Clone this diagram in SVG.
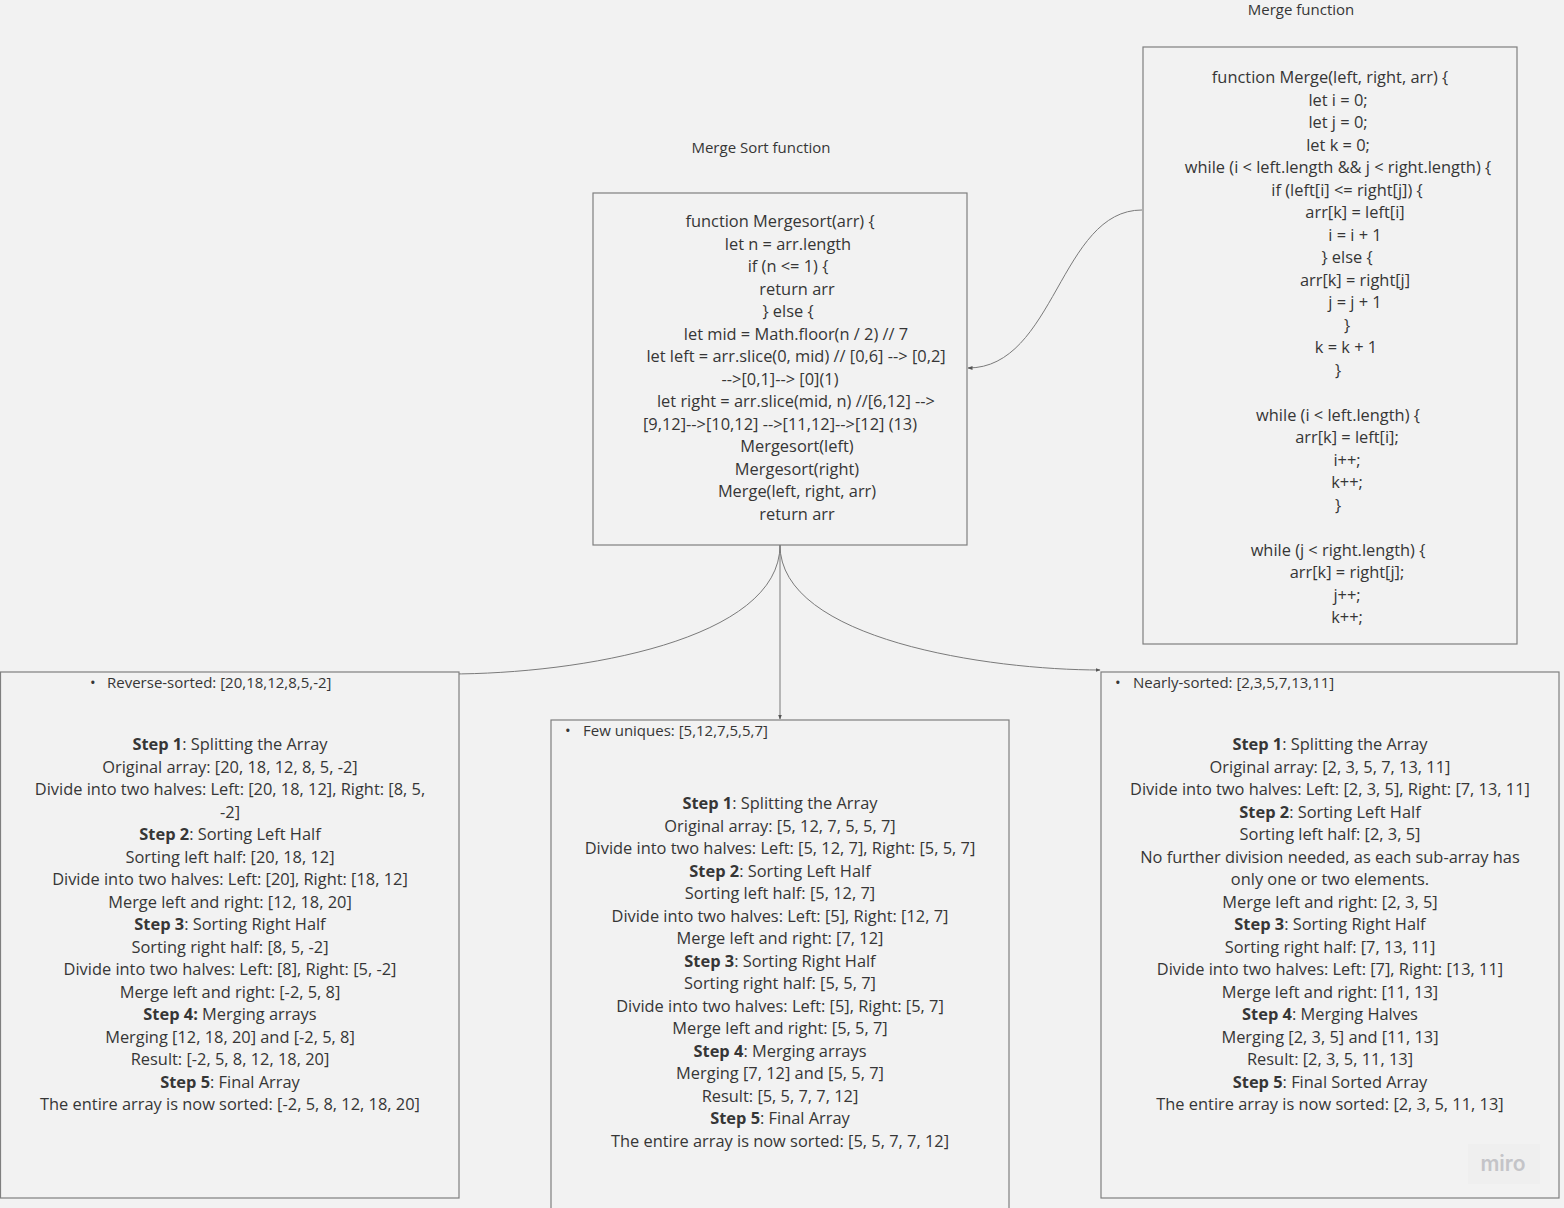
<svg xmlns="http://www.w3.org/2000/svg" width="1564" height="1208" viewBox="0 0 1564 1208">
<style>
.bg{fill:#f2f2f2}
.box{fill:#f2f2f2;stroke:#7f7f7f;stroke-width:1.2}
.t{font-family:"Open Sans","Noto Sans","DejaVu Sans",sans-serif;font-size:16.4px;fill:#363636;text-anchor:middle}
.h{font-family:"Open Sans","Noto Sans","DejaVu Sans",sans-serif;font-size:15px;fill:#363636}
.b{font-weight:bold}
.c{fill:none;stroke:#7a7a7a;stroke-width:1}
</style>
<defs>
<marker id="ah" viewBox="0 0 10 10" refX="9" refY="5" markerWidth="5" markerHeight="5" orient="auto" markerUnits="userSpaceOnUse">
<path d="M0,1 L10,5 L0,9 z" fill="#555"/>
</marker>
</defs>
<rect class="bg" x="0" y="0" width="1564" height="1208"/>

<g id="title-mergesort"><text class="h" x="761" y="153" text-anchor="middle">Merge Sort function</text></g>
<g id="title-merge"><text class="h" x="1301" y="15" text-anchor="middle">Merge function</text></g>

<g id="connectors">
<path class="c" d="M1142,210 C1060,210 1055,368 968,368" marker-end="url(#ah)"/>
<path class="c" d="M780,545 C780,640 580,674 449,674" marker-end="url(#ah)"/>
<path class="c" d="M780,545 L780,719" marker-end="url(#ah)"/>
<path class="c" d="M780,545 C780,640 990,670 1100,670" marker-end="url(#ah)"/>
</g>

<g id="node-mergesort">
<rect class="box" x="593" y="193" width="374" height="352"/>
<text class="t" x="780" y="227">function Mergesort(arr) {</text>
<text class="t" x="788" y="249.5">let n = arr.length</text>
<text class="t" x="788" y="272">if (n &lt;= 1) {</text>
<text class="t" x="797" y="294.5">return arr</text>
<text class="t" x="788" y="317">} else {</text>
<text class="t" x="796" y="339.5">let mid = Math.floor(n / 2) // 7</text>
<text class="t" x="796" y="362">let left = arr.slice(0, mid) // [0,6] --&gt; [0,2]</text>
<text class="t" x="780" y="384.5">--&gt;[0,1]--&gt; [0](1)</text>
<text class="t" x="796" y="407">let right = arr.slice(mid, n) //[6,12] --&gt;</text>
<text class="t" x="780" y="429.5">[9,12]--&gt;[10,12] --&gt;[11,12]--&gt;[12] (13)</text>
<text class="t" x="797" y="452">Mergesort(left)</text>
<text class="t" x="797" y="474.5">Mergesort(right)</text>
<text class="t" x="797" y="497">Merge(left, right, arr)</text>
<text class="t" x="797" y="519.5">return arr</text>
</g>

<g id="node-merge">
<rect class="box" x="1143" y="47" width="374" height="597"/>
<text class="t" x="1330" y="83">function Merge(left, right, arr) {</text>
<text class="t" x="1338" y="105.5">let i = 0;</text>
<text class="t" x="1338" y="128">let j = 0;</text>
<text class="t" x="1338" y="150.5">let k = 0;</text>
<text class="t" x="1338" y="173">while (i &lt; left.length &amp;&amp; j &lt; right.length) {</text>
<text class="t" x="1347" y="195.5">if (left[i] &lt;= right[j]) {</text>
<text class="t" x="1355" y="218">arr[k] = left[i]</text>
<text class="t" x="1355" y="240.5">i = i + 1</text>
<text class="t" x="1347" y="263">} else {</text>
<text class="t" x="1355" y="285.5">arr[k] = right[j]</text>
<text class="t" x="1355" y="308">j = j + 1</text>
<text class="t" x="1347" y="330.5">}</text>
<text class="t" x="1346" y="353">k = k + 1</text>
<text class="t" x="1338" y="375.5">}</text>
<text class="t" x="1338" y="420.5">while (i &lt; left.length) {</text>
<text class="t" x="1347" y="443">arr[k] = left[i];</text>
<text class="t" x="1347" y="465.5">i++;</text>
<text class="t" x="1347" y="488">k++;</text>
<text class="t" x="1338" y="510.5">}</text>
<text class="t" x="1338" y="555.5">while (j &lt; right.length) {</text>
<text class="t" x="1347" y="578">arr[k] = right[j];</text>
<text class="t" x="1347" y="600.5">j++;</text>
<text class="t" x="1347" y="623">k++;</text>
</g>

<g id="node-reverse">
<rect class="box" x="0.5" y="672" width="458.5" height="526"/>
<text class="h" x="90" y="688" font-size="10">•</text>
<text class="h" x="107" y="688">Reverse-sorted: [20,18,12,8,5,-2]</text>
<text class="t" x="230" y="750"><tspan class="b">Step 1</tspan>: Splitting the Array</text>
<text class="t" x="230" y="772.5">Original array: [20, 18, 12, 8, 5, -2]</text>
<text class="t" x="230" y="795">Divide into two halves: Left: [20, 18, 12], Right: [8, 5,</text>
<text class="t" x="230" y="817.5">-2]</text>
<text class="t" x="230" y="840"><tspan class="b">Step 2</tspan>: Sorting Left Half</text>
<text class="t" x="230" y="862.5">Sorting left half: [20, 18, 12]</text>
<text class="t" x="230" y="885">Divide into two halves: Left: [20], Right: [18, 12]</text>
<text class="t" x="230" y="907.5">Merge left and right: [12, 18, 20]</text>
<text class="t" x="230" y="930"><tspan class="b">Step 3</tspan>: Sorting Right Half</text>
<text class="t" x="230" y="952.5">Sorting right half: [8, 5, -2]</text>
<text class="t" x="230" y="975">Divide into two halves: Left: [8], Right: [5, -2]</text>
<text class="t" x="230" y="997.5">Merge left and right: [-2, 5, 8]</text>
<text class="t" x="230" y="1020"><tspan class="b">Step 4:</tspan> Merging arrays</text>
<text class="t" x="230" y="1042.5">Merging [12, 18, 20] and [-2, 5, 8]</text>
<text class="t" x="230" y="1065">Result: [-2, 5, 8, 12, 18, 20]</text>
<text class="t" x="230" y="1087.5"><tspan class="b">Step 5</tspan>: Final Array</text>
<text class="t" x="230" y="1110">The entire array is now sorted: [-2, 5, 8, 12, 18, 20]</text>
</g>

<g id="node-few">
<rect class="box" x="551" y="720" width="458" height="500"/>
<text class="h" x="565" y="736" font-size="10">•</text>
<text class="h" x="583" y="736">Few uniques: [5,12,7,5,5,7]</text>
<text class="t" x="780" y="809"><tspan class="b">Step 1</tspan>: Splitting the Array</text>
<text class="t" x="780" y="831.5">Original array: [5, 12, 7, 5, 5, 7]</text>
<text class="t" x="780" y="854">Divide into two halves: Left: [5, 12, 7], Right: [5, 5, 7]</text>
<text class="t" x="780" y="876.5"><tspan class="b">Step 2</tspan>: Sorting Left Half</text>
<text class="t" x="780" y="899">Sorting left half: [5, 12, 7]</text>
<text class="t" x="780" y="921.5">Divide into two halves: Left: [5], Right: [12, 7]</text>
<text class="t" x="780" y="944">Merge left and right: [7, 12]</text>
<text class="t" x="780" y="966.5"><tspan class="b">Step 3</tspan>: Sorting Right Half</text>
<text class="t" x="780" y="989">Sorting right half: [5, 5, 7]</text>
<text class="t" x="780" y="1011.5">Divide into two halves: Left: [5], Right: [5, 7]</text>
<text class="t" x="780" y="1034">Merge left and right: [5, 5, 7]</text>
<text class="t" x="780" y="1056.5"><tspan class="b">Step 4</tspan>: Merging arrays</text>
<text class="t" x="780" y="1079">Merging [7, 12] and [5, 5, 7]</text>
<text class="t" x="780" y="1101.5">Result: [5, 5, 7, 7, 12]</text>
<text class="t" x="780" y="1124"><tspan class="b">Step 5</tspan>: Final Array</text>
<text class="t" x="780" y="1146.5">The entire array is now sorted: [5, 5, 7, 7, 12]</text>
</g>

<g id="node-nearly">
<rect class="box" x="1101" y="672" width="458" height="526"/>
<text class="h" x="1115" y="688" font-size="10">•</text>
<text class="h" x="1133" y="688">Nearly-sorted: [2,3,5,7,13,11]</text>
<text class="t" x="1330" y="750"><tspan class="b">Step 1</tspan>: Splitting the Array</text>
<text class="t" x="1330" y="772.5">Original array: [2, 3, 5, 7, 13, 11]</text>
<text class="t" x="1330" y="795">Divide into two halves: Left: [2, 3, 5], Right: [7, 13, 11]</text>
<text class="t" x="1330" y="817.5"><tspan class="b">Step 2</tspan>: Sorting Left Half</text>
<text class="t" x="1330" y="840">Sorting left half: [2, 3, 5]</text>
<text class="t" x="1330" y="862.5">No further division needed, as each sub-array has</text>
<text class="t" x="1330" y="885">only one or two elements.</text>
<text class="t" x="1330" y="907.5">Merge left and right: [2, 3, 5]</text>
<text class="t" x="1330" y="930"><tspan class="b">Step 3</tspan>: Sorting Right Half</text>
<text class="t" x="1330" y="952.5">Sorting right half: [7, 13, 11]</text>
<text class="t" x="1330" y="975">Divide into two halves: Left: [7], Right: [13, 11]</text>
<text class="t" x="1330" y="997.5">Merge left and right: [11, 13]</text>
<text class="t" x="1330" y="1020"><tspan class="b">Step 4</tspan>: Merging Halves</text>
<text class="t" x="1330" y="1042.5">Merging [2, 3, 5] and [11, 13]</text>
<text class="t" x="1330" y="1065">Result: [2, 3, 5, 11, 13]</text>
<text class="t" x="1330" y="1087.5"><tspan class="b">Step 5</tspan>: Final Sorted Array</text>
<text class="t" x="1330" y="1110">The entire array is now sorted: [2, 3, 5, 11, 13]</text>
</g>

<g id="logo">
<rect x="1468" y="1144" width="72" height="40" fill="#efefef"/>
<text x="1503" y="1171" text-anchor="middle" font-family="Inter,'Open Sans',sans-serif" font-size="21" font-weight="600" fill="#c4c4c8">miro</text>
</g>
</svg>
